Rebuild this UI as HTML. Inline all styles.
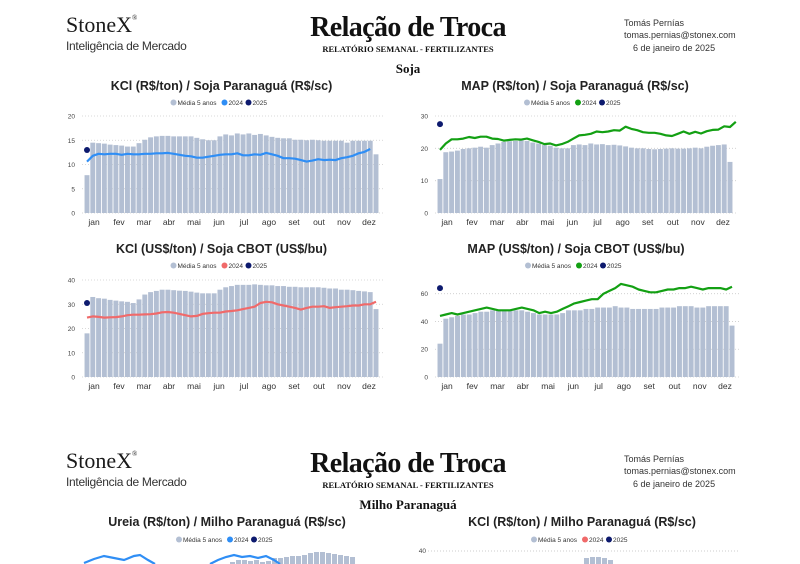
<!DOCTYPE html>
<html><head><meta charset="utf-8"><style>
body{margin:0;background:#fff;width:800px;height:564px;overflow:hidden;font-family:"Liberation Sans",sans-serif}
svg{position:absolute;left:0;top:0}
</style></head><body>
<svg width="800" height="564" id="s" xmlns="http://www.w3.org/2000/svg"></svg>
<script>
const S=document.getElementById('s');let h='';
function hdr(y0,sub){
h+=`<text x="66" y="${y0+24}" font-family="Liberation Serif,serif" font-size="22" fill="#1a1a1a">StoneX<tspan font-size="7" dy="-12">®</tspan></text>
<text x="66" y="${y0+42}" font-size="12" fill="#333" letter-spacing="-0.3">Inteligência de Mercado</text>
<text x="408" y="${y0+28}" text-anchor="middle" font-family="Liberation Serif,serif" font-weight="bold" font-size="28" fill="#111" letter-spacing="-0.6">Relação de Troca</text>
<text x="408" y="${y0+44}" text-anchor="middle" font-family="Liberation Serif,serif" font-weight="bold" font-size="8.5" fill="#111">RELATÓRIO SEMANAL - FERTILIZANTES</text>
<text x="408" y="${y0+65}" text-anchor="middle" font-family="Liberation Serif,serif" font-weight="bold" font-size="13" fill="#111">${sub}</text>
<text x="624" y="${y0+18}" font-size="9" fill="#333">Tomás Pernías</text>
<text x="624" y="${y0+30}" font-size="9" fill="#333">tomas.pernias@stonex.com</text>
<text x="633" y="${y0+43}" font-size="9" fill="#333">6 de janeiro de 2025</text>`;}
hdr(8,'Soja');hdr(444,'Milho Paranaguá');
const M=['jan','fev','mar','abr','mai','jun','jul','ago','set','out','nov','dez'];
function chart(o){
const {x0,x1,ybot,ytop,vmax,ticks,bars,line,col,dot,title,ty}=o;
const sy=v=>ybot-(v/vmax)*(ybot-ytop);
h+=`<text x="${(x0+x1)/2-10}" y="${ty}" text-anchor="middle" font-weight="bold" font-size="12.5" fill="#222">${title}</text>`;
const lx=(x0+x1)/2-10, ly=ty+15;
h+=`<circle cx="${lx-48}" cy="${ly-2.5}" r="3" fill="#b3bfd3"/><text x="${lx-44}" y="${ly}" font-size="6.5" fill="#333">Média 5 anos</text>
<circle cx="${lx+3}" cy="${ly-2.5}" r="3" fill="${col}"/><text x="${lx+7}" y="${ly}" font-size="6.5" fill="#333">2024</text>
<circle cx="${lx+27}" cy="${ly-2.5}" r="3" fill="#0d1a6e"/><text x="${lx+31}" y="${ly}" font-size="6.5" fill="#333">2025</text>`;
ticks.forEach(t=>{const y=sy(t);h+=`<line x1="${x0-5}" x2="${x1+8}" y1="${y}" y2="${y}" stroke="#ccc" stroke-dasharray="1,2" stroke-width="0.8"/><text x="${x0-12}" y="${y+2.5}" text-anchor="end" font-size="6.5" fill="#444">${t}</text>`});
const n=bars.length,step=(x1-x0)/(n-1),bw=step*0.85;
bars.forEach((b,i)=>{const x=x0+i*step,y=sy(b);h+=`<rect x="${x-bw/2}" y="${y}" width="${bw}" height="${ybot-y}" fill="#b3bfd3"/>`});
let p=line.map((v,i)=>`${(x0+i*step).toFixed(1)},${sy(v).toFixed(1)}`).join(' ');
h+=`<polyline points="${p}" fill="none" stroke="${col}" stroke-width="2.2" stroke-linejoin="round"/>`;
h+=`<circle cx="${x0}" cy="${sy(dot)}" r="3" fill="#0d1a6e"/>`;
M.forEach((m,i)=>{const x=x0+7+i*(x1-x0-14)/11;h+=`<text x="${x}" y="${ybot+12}" text-anchor="middle" font-size="8.5" fill="#333">${m}</text>`});
}
chart({x0:87,x1:376,ybot:213,ytop:116,vmax:20,ticks:[0,5,10,15,20],ty:90,col:'#2f8ef5',dot:13,title:'KCl (R$/ton) / Soja Paranaguá (R$/sc)',
bars:[7.8,14.5,14.4,14.3,14.1,14,13.9,13.7,13.7,14.4,15.1,15.6,15.8,15.9,15.9,15.8,15.8,15.8,15.8,15.5,15.2,15,15,15.8,16.2,16,16.4,16.2,16.4,16.1,16.3,16,15.7,15.5,15.4,15.4,15.1,15.1,15,15.1,15,14.9,14.9,14.9,14.9,14.5,14.9,14.9,14.9,14.9,12.1],
line:[10.6,11.8,12.2,12.1,12.2,12.2,12,12.2,12.1,12.1,12.2,12.2,12.3,12.3,12.4,12.2,12,11.8,11.7,11.4,11.4,11.6,11.8,12,12.1,12.1,12.3,11.9,11.9,12.1,12,12.4,12.1,11.8,11.3,11.3,11.2,10.9,10.6,10.8,11.1,10.9,11,10.9,11.3,11.5,11.8,12.3,12.6,13.2]});
chart({x0:440,x1:730,ybot:213,ytop:116,vmax:30,ticks:[0,10,20,30],ty:90,col:'#13a013',dot:27.5,title:'MAP (R$/ton) / Soja Paranaguá (R$/sc)',
bars:[10.5,18.8,19,19.3,19.8,20,20.2,20.5,20.2,21,21.5,22,22.2,22.3,22.5,22.3,21.8,21.5,21,20.8,20.2,20,20,21,21.2,21,21.5,21.2,21.3,21,21.1,20.9,20.6,20.2,20,20,19.8,19.7,19.8,19.9,20,19.9,19.9,20,20.2,20,20.5,20.8,21,21.2,15.8],
line:[19.5,21.5,22.8,22.8,23,23.5,23.2,23.6,23.6,23,22.9,22.4,22.6,22.8,22.7,23,22.5,22,21.3,21.5,20.9,21.3,22,23,24,24.2,24.5,25.2,25,25.2,25.6,25.5,26.7,26,25.6,25,24.8,24.8,24.5,24,23.8,24.5,25.2,24.5,25.1,24.6,25.3,25.7,25.8,26.8,26.6,28.2]});
chart({x0:87,x1:376,ybot:377,ytop:280,vmax:40,ticks:[0,10,20,30,40],ty:253,col:'#f06a6a',dot:30.5,title:'KCl (US$/ton) / Soja CBOT (US$/bu)',
bars:[18,33,32.5,32.3,31.8,31.5,31.2,31,30.5,32,34,35,35.5,36,36,35.8,35.6,35.5,35.2,34.8,34.5,34.5,34.5,36,37,37.5,38,38,38,38.2,38,37.8,37.8,37.5,37.5,37.2,37.2,37,37,37,37,36.8,36.5,36.5,36,36,35.8,35.5,35.3,35,28],
line:[24.5,25,24.8,24.5,24.6,24.7,25,25.5,25.7,25.7,25.8,25.9,26.2,26.7,26.8,26.5,26,25.5,25,25.2,26,26.3,26.5,26.5,27,27.2,27.5,28,28.5,29,30.5,31,30.8,30,29.5,29,28.5,27.8,28.5,29,29,29.2,28.5,28.8,29,29.2,29.5,29.5,30,30,31]});
chart({x0:440,x1:732,ybot:377,ytop:277,vmax:72,ticks:[0,20,40,60],ty:253,col:'#13a013',dot:64,title:'MAP (US$/ton) / Soja CBOT (US$/bu)',
bars:[24,42,43,44,45,45,46,47,47,48,48,48,48,48,48,47,46,45,45,45,45,46,48,48,48,49,49,50,50,50,51,50,50,49,49,49,49,49,50,50,50,51,51,51,50,50,51,51,51,51,37],
line:[44,45,46,45,46,47,48,49,50,49,48,48,48,49,50,49,48,46,47,46,47,49,51,53,54,55,56,56,60,62,64,67,66,65,63,62,61,61,62,63,63,64,64,65,64,63,64,64,64,63,65]});
h+=`<text x="227" y="526" text-anchor="middle" font-weight="bold" font-size="12.5" fill="#222">Ureia (R$/ton) / Milho Paranaguá (R$/sc)</text>
<text x="582" y="526" text-anchor="middle" font-weight="bold" font-size="12.5" fill="#222">KCl (R$/ton) / Milho Paranaguá (R$/sc)</text>`;
[[227,'#2f8ef5'],[582,'#f06a6a']].forEach(([c,col])=>{const ly=542;h+=`<circle cx="${c-48}" cy="${ly-2.5}" r="3" fill="#b3bfd3"/><text x="${c-44}" y="${ly}" font-size="6.5" fill="#333">Média 5 anos</text><circle cx="${c+3}" cy="${ly-2.5}" r="3" fill="${col}"/><text x="${c+7}" y="${ly}" font-size="6.5" fill="#333">2024</text><circle cx="${c+27}" cy="${ly-2.5}" r="3" fill="#0d1a6e"/><text x="${c+31}" y="${ly}" font-size="6.5" fill="#333">2025</text>`});
h+=`<line x1="428" x2="740" y1="551" y2="551" stroke="#ccc" stroke-dasharray="1,2"/><text x="426" y="553" text-anchor="end" font-size="6.5" fill="#444">40</text>`;
[[230,562],[236,560],[242,560],[248,561],[254,560],[260,562],[266,561],[272,558],[278,558],[284,557],[290,556],[296,556],[302,555],[308,553],[314,552],[320,552],[326,553],[332,554],[338,555],[344,556],[350,557]].forEach(([x,y])=>h+=`<rect x="${x}" y="${y}" width="5" height="${564-y}" fill="#b3bfd3"/>`);
[[584,558],[590,557],[596,557],[602,558],[608,560]].forEach(([x,y])=>h+=`<rect x="${x}" y="${y}" width="5" height="${564-y}" fill="#b3bfd3"/>`);
h+=`<polyline points="84,563 94,559 104,556 114,558 124,560 134,556 140,555 148,560 155,564" fill="none" stroke="#2f8ef5" stroke-width="2.2"/>
<polyline points="210,564 218,560 226,557 234,555 242,557 250,556 258,558 266,556 274,560 280,564" fill="none" stroke="#2f8ef5" stroke-width="2.2"/>`;
S.innerHTML=h;
</script>
</body></html>
